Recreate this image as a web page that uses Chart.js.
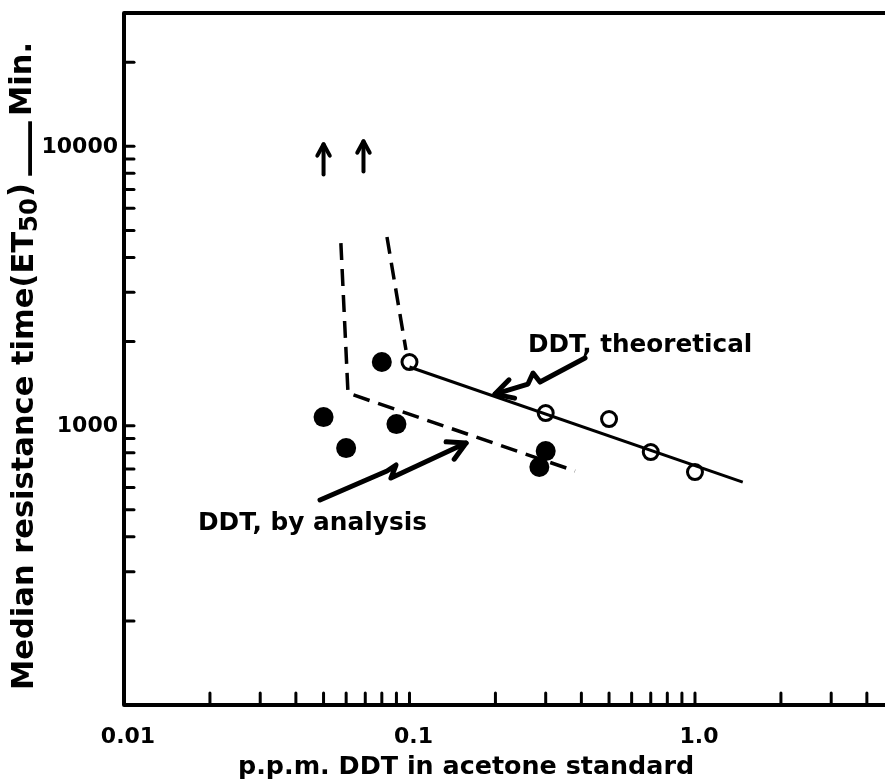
<!DOCTYPE html>
<html>
<head>
<meta charset="utf-8">
<script src="https://cdn.jsdelivr.net/npm/chart.js@4.4.0/dist/chart.umd.min.js"></script>
<style>
  html, body { margin: 0; padding: 0; background: #fff; }
</style>
</head>
<body>
<canvas id="myChart" width="885" height="779"></canvas>
<script>
// Valores (ppm DDT vs. tiempo medio de resistencia, min)
var analysisX = [0.05, 0.06, 0.08, 0.09, 0.285, 0.3];
var analysisY = [1073, 831, 1690, 1013, 711, 811];

var theoryX = [0.1, 0.3, 0.5, 0.7, 1.0];
var theoryY = [1689, 1109, 1056, 804, 682];

// Recta "teórica" y líneas a trazos
var theoryLineX = [0.1, 1.47];
var theoryLineY = [1621, 628];
var analysisDashX = [0.0575, 0.0609, 0.38];
var analysisDashY = [4504, 1308, 688];
var theoryDashX = [0.0834, 0.0972];
var theoryDashY = [4732, 1865];

// Flechas hacia arriba (valores fuera de escala)
var upArrowX = [0.05, 0.069];
var upArrowFromY = [7930, 8130];
var upArrowToY = [10170, 10420];

// Ejes
var xMin = 0.01, xMax = 4.63;
var yMin = 100, yMax = 30000;
var xTickValues = [0.02, 0.03, 0.04, 0.05, 0.06, 0.07, 0.08, 0.09, 0.1,
                   0.2, 0.3, 0.4, 0.5, 0.6, 0.7, 0.8, 0.9, 1, 2, 3, 4];
var xLabelValues = [0.01, 0.1, 1];
var xLabelText = ['0.01', '0.1', '1.0'];
var yTickValues = [200, 300, 400, 500, 600, 700, 800, 900, 1000,
                   2000, 3000, 4000, 5000, 6000, 7000, 8000, 9000, 10000, 20000];
var yLabelValues = [1000, 10000];
var yLabelText = ['1000', '10000'];

var xTitle = 'p.p.m. DDT in acetone standard';

// Notas con flechas en zigzag
var theoryNote = {
    text: 'DDT, theoretical', x: 0.26, y: 1840, width: 224,
    arrowX: [0.412, 0.2865, 0.2708, 0.260, 0.1993],
    arrowY: [1746, 1432, 1543, 1409, 1297]
};
var analysisNote = {
    text: 'DDT, by analysis', x: 0.01816, y: 422, width: 229,
    arrowX: [0.0486, 0.0834, 0.0897, 0.0861, 0.1578],
    arrowY: [542, 688, 723, 649, 866]
};

var FONT = '"DejaVu Sans", sans-serif';

function toPoints(xs, ys) {
    return xs.map(function (x, i) { return { x: x, y: ys[i] }; });
}

function fitSize(ctx, text, width) {
    ctx.font = 'bold 20px ' + FONT;
    return 20 * width / ctx.measureText(text).width;
}

function arrowHead(ctx, x0, y0, x1, y1, len) {
    var a = Math.atan2(y1 - y0, x1 - x0);
    ctx.beginPath();
    ctx.moveTo(x1 - len * Math.cos(a - 0.5), y1 - len * Math.sin(a - 0.5));
    ctx.lineTo(x1, y1);
    ctx.lineTo(x1 - len * Math.cos(a + 0.5), y1 - len * Math.sin(a + 0.5));
    ctx.stroke();
}

var decor = {
    id: 'decor',
    afterDraw: function (chart) {
        var ctx = chart.ctx;
        var xs = chart.scales.x, ys = chart.scales.y;
        var area = chart.chartArea;
        ctx.save();
        ctx.strokeStyle = '#000';
        ctx.fillStyle = '#000';
        ctx.lineCap = 'round';
        ctx.lineJoin = 'round';

        // marco: izquierda, abajo, arriba
        ctx.lineWidth = 4;
        ctx.beginPath();
        ctx.moveTo(area.right + 5, area.top);
        ctx.lineTo(area.left, area.top);
        ctx.lineTo(area.left, area.bottom);
        ctx.lineTo(area.right + 5, area.bottom);
        ctx.stroke();

        // marcas hacia dentro
        ctx.lineWidth = 3;
        xTickValues.forEach(function (v) {
            var px = xs.getPixelForValue(v);
            ctx.beginPath();
            ctx.moveTo(px, area.bottom);
            ctx.lineTo(px, area.bottom - 12);
            ctx.stroke();
        });
        yTickValues.forEach(function (v) {
            var py = ys.getPixelForValue(v);
            ctx.beginPath();
            ctx.moveTo(area.left, py);
            ctx.lineTo(area.left + 10, py);
            ctx.stroke();
        });

        // etiquetas de los ejes
        ctx.font = 'bold 22px ' + FONT;
        ctx.textAlign = 'center';
        ctx.textBaseline = 'alphabetic';
        xLabelValues.forEach(function (v, i) {
            ctx.fillText(xLabelText[i], xs.getPixelForValue(v) + 4, area.bottom + 38);
        });
        ctx.textAlign = 'right';
        ctx.textBaseline = 'middle';
        yLabelValues.forEach(function (v, i) {
            ctx.fillText(yLabelText[i], area.left - 6, ys.getPixelForValue(v) + 1);
        });

        // título eje x
        var fx = fitSize(ctx, xTitle, 457);
        ctx.font = 'bold ' + fx.toFixed(1) + 'px ' + FONT;
        ctx.textAlign = 'left';
        ctx.textBaseline = 'alphabetic';
        ctx.fillText(xTitle, 238, 774);

        // título eje y (rotado, con subíndice)
        ctx.save();
        ctx.translate(25, 690);
        ctx.rotate(-Math.PI / 2);
        var main = 'Median resistance time(ET';
        var fy = fitSize(ctx, main, 458);
        ctx.font = 'bold ' + fy.toFixed(1) + 'px ' + FONT;
        ctx.textAlign = 'left';
        ctx.textBaseline = 'middle';
        ctx.fillText(main, 0, 0);
        var pos = ctx.measureText(main).width;
        ctx.font = 'bold ' + (fy * 0.8).toFixed(1) + 'px ' + FONT;
        ctx.fillText('50', pos, 6);
        pos += ctx.measureText('50').width + 1;
        ctx.font = 'bold ' + fy.toFixed(1) + 'px ' + FONT;
        ctx.fillText(')', pos, -3);
        pos += ctx.measureText(')').width + 4;
        ctx.save();
        ctx.translate(pos, 0);
        ctx.scale(2, 1);
        ctx.fillText('\u2014', 0, 5);
        ctx.restore();
        pos += ctx.measureText('\u2014').width * 2 + 2;
        ctx.fillText('Min.', pos, -2);
        ctx.restore();

        // flechas verticales
        ctx.lineWidth = 4;
        upArrowX.forEach(function (v, i) {
            var px = xs.getPixelForValue(v);
            var y0 = ys.getPixelForValue(upArrowFromY[i]);
            var y1 = ys.getPixelForValue(upArrowToY[i]);
            ctx.beginPath();
            ctx.moveTo(px, y0);
            ctx.lineTo(px, y1);
            ctx.stroke();
            arrowHead(ctx, px, y0, px, y1, 13);
        });

        // notas
        [theoryNote, analysisNote].forEach(function (n) {
            var size = fitSize(ctx, n.text, n.width);
            ctx.font = 'bold ' + size.toFixed(1) + 'px ' + FONT;
            ctx.textAlign = 'left';
            ctx.textBaseline = 'alphabetic';
            ctx.fillText(n.text, xs.getPixelForValue(n.x), ys.getPixelForValue(n.y));
            var pts = n.arrowX.map(function (v, i) {
                return [xs.getPixelForValue(v), ys.getPixelForValue(n.arrowY[i])];
            });
            ctx.lineWidth = 5;
            ctx.beginPath();
            ctx.moveTo(pts[0][0], pts[0][1]);
            for (var k = 1; k < pts.length; k++) ctx.lineTo(pts[k][0], pts[k][1]);
            ctx.stroke();
            var a = pts[pts.length - 2], b = pts[pts.length - 1];
            arrowHead(ctx, a[0], a[1], b[0], b[1], 20);
        });

        ctx.restore();
    }
};

var ctx = document.getElementById('myChart').getContext('2d');
var myChart = new Chart(ctx, {
    type: 'scatter',
    data: {
        datasets: [{
            label: 'DDT, theoretical line',
            type: 'line',
            data: toPoints(theoryLineX, theoryLineY),
            borderColor: '#000',
            borderWidth: 3,
            pointRadius: 0,
            fill: false
        }, {
            label: 'analysis dashed',
            type: 'line',
            data: toPoints(analysisDashX, analysisDashY),
            borderColor: '#000',
            borderWidth: 3.5,
            borderDash: [17, 9],
            pointRadius: 0,
            fill: false
        }, {
            label: 'theoretical dashed',
            type: 'line',
            data: toPoints(theoryDashX, theoryDashY),
            borderColor: '#000',
            borderWidth: 3.5,
            borderDash: [17, 9],
            pointRadius: 0,
            fill: false
        }, {
            label: 'DDT, by analysis',
            data: toPoints(analysisX, analysisY),
            backgroundColor: '#000',
            borderColor: '#000',
            pointRadius: 10,
            borderWidth: 0
        }, {
            label: 'DDT, theoretical',
            data: toPoints(theoryX, theoryY),
            backgroundColor: '#fff',
            borderColor: '#000',
            pointRadius: 7.5,
            borderWidth: 3
        }]
    },
    options: {
        responsive: false,
        animation: false,
        clip: false,
        layout: { autoPadding: false, padding: { left: 124, top: 13, right: 0, bottom: 74 } },
        plugins: {
            legend: { display: false },
            tooltip: { enabled: false }
        },
        scales: {
            x: { type: 'logarithmic', min: xMin, max: xMax, display: false },
            y: { type: 'logarithmic', min: yMin, max: yMax, display: false }
        }
    },
    plugins: [decor]
});
</script>
</body>
</html>
